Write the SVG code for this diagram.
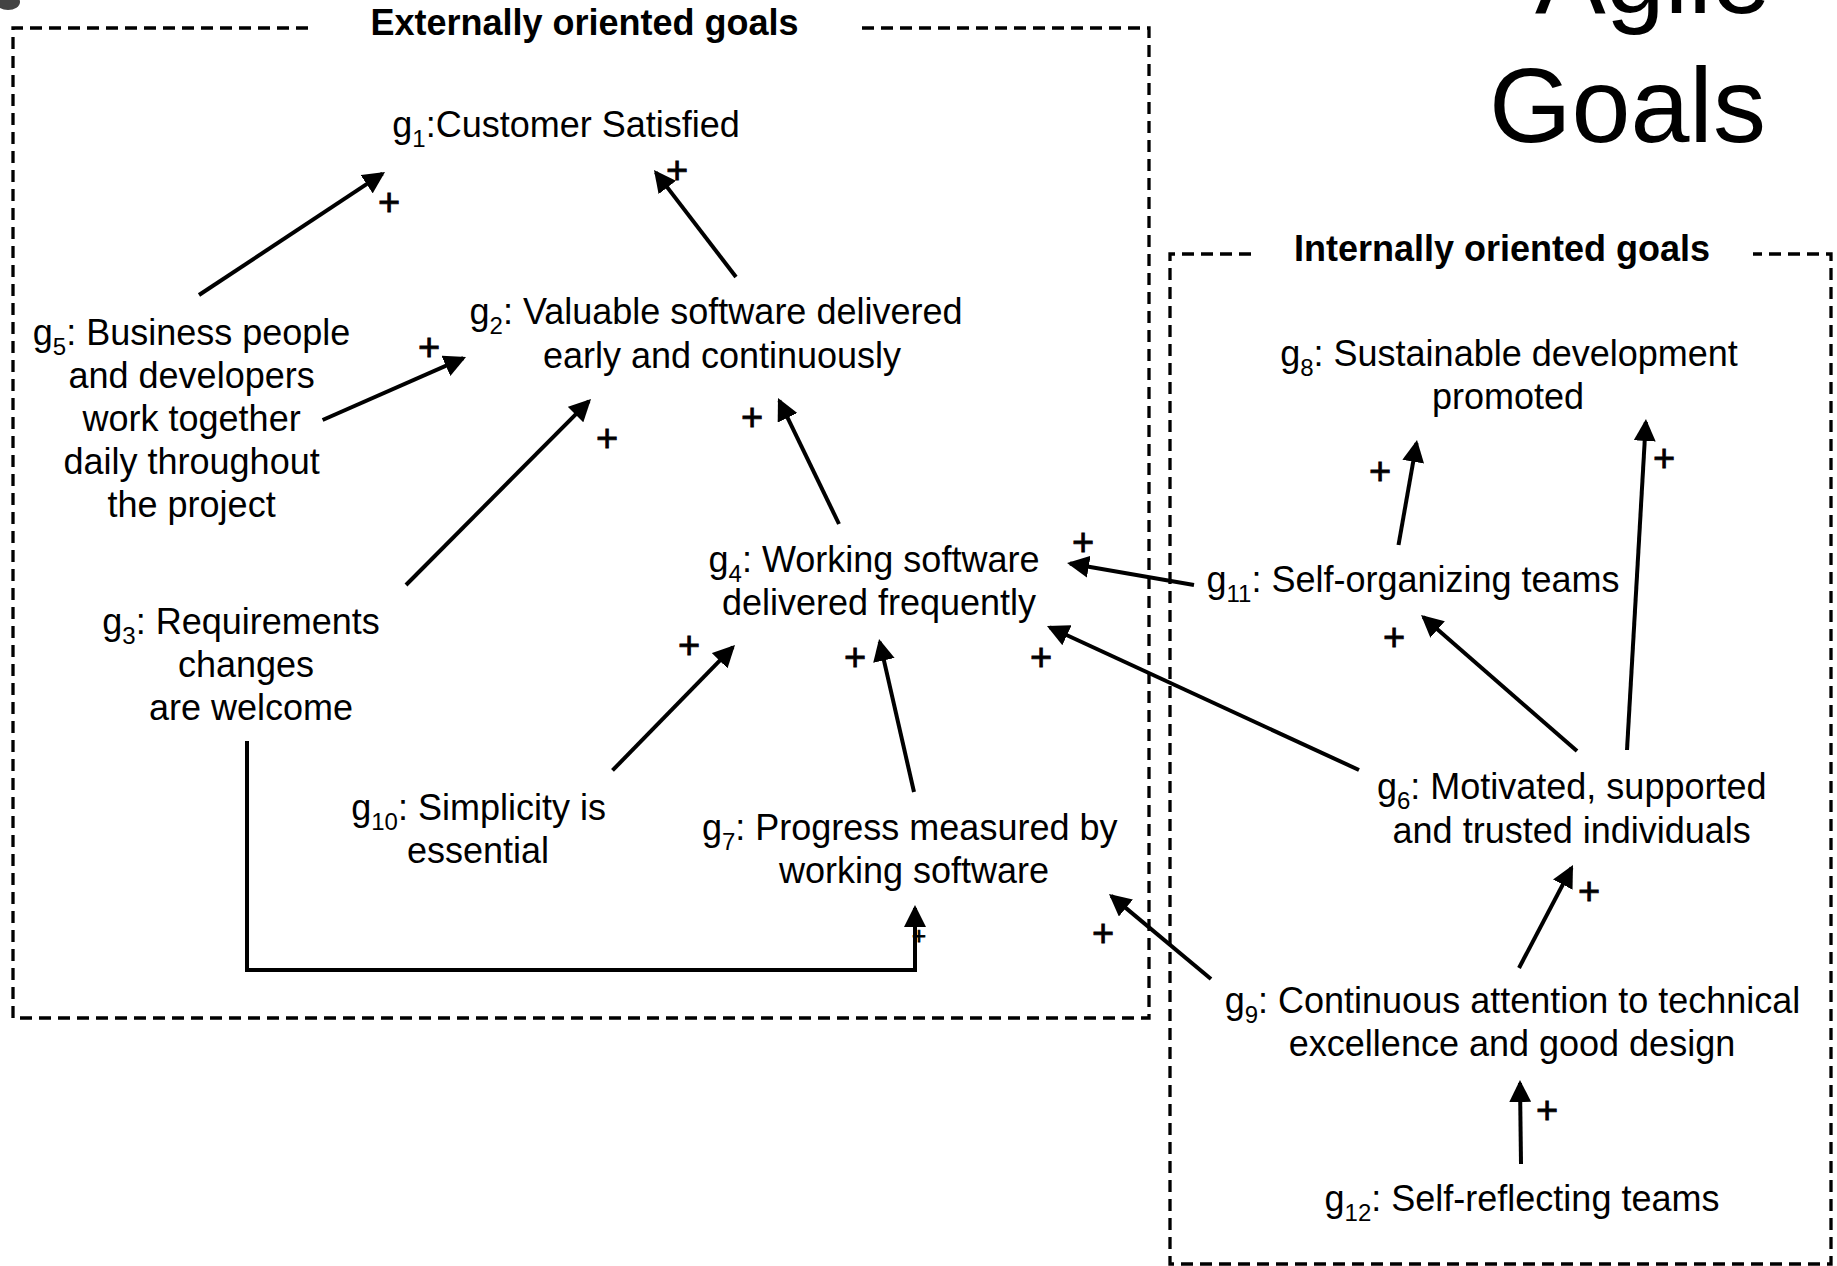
<svg xmlns="http://www.w3.org/2000/svg" width="1837" height="1266" viewBox="0 0 1837 1266">
<style>
text{font-family:"Liberation Sans",Arial,"DejaVu Sans",sans-serif;fill:#000}
.n{font-size:36px;text-anchor:middle}
.s{font-size:24px}
.t{font-size:36px;font-weight:bold;text-anchor:middle}
.big{font-size:106px}
.p{font-size:38px;text-anchor:middle;stroke:#000;stroke-width:0.8}
.box{fill:none;stroke:#000;stroke-width:3.3;stroke-dasharray:12 7}
.c{fill:none;stroke:#000;stroke-width:4;marker-end:url(#ah)}
</style>
<defs>
<marker id="ah" markerUnits="userSpaceOnUse" markerWidth="22" markerHeight="22" refX="19" refY="11" orient="auto">
<path d="M0,0 L22,11 L0,22 z" fill="#000"/>
</marker>
</defs>
<rect width="1837" height="1266" fill="#fff"/>
<ellipse cx="8" cy="2" rx="12" ry="8" fill="#222" opacity="0.85"/>

<g id="title">
<text class="big" x="1535" y="13">Agile</text>
<text class="big" x="1489" y="142">Goals</text>
</g>

<g id="external-group">
<path class="box" d="M308,28 H13 V1018 H1149 V28 H859"/>
<text class="t" x="584.5" y="35">Externally oriented goals</text>
</g>
<g id="internal-group">
<path class="box" d="M1251,254 H1170 V1264 H1831 V254 H1753"/>
<text class="t" x="1502" y="261">Internally oriented goals</text>
</g>

<g id="connectors">
<g id="e5-1"><path class="c" d="M199,295 L382.5,173.7"/><text class="p" x="389" y="215">+</text></g>
<g id="e2-1"><path class="c" d="M736,277 L655.8,172.4"/><text class="p" x="677" y="183">+</text></g>
<g id="e5-2"><path class="c" d="M322.6,420 L463.3,358.2"/><text class="p" x="429" y="360">+</text></g>
<g id="e3-2"><path class="c" d="M406,585 L588.9,401.1"/><text class="p" x="607" y="451">+</text></g>
<g id="e4-2"><path class="c" d="M839,524 L779.3,400.7"/><text class="p" x="752" y="430">+</text></g>
<g id="e10-4"><path class="c" d="M612.5,770.4 L732.9,647.1"/><text class="p" x="689" y="658">+</text></g>
<g id="e7-4"><path class="c" d="M914,792 L879.7,641.9"/><text class="p" x="855" y="670">+</text></g>
<g id="e11-4"><path class="c" d="M1194,585 L1070,563.5"/><text class="p" x="1083" y="555">+</text></g>
<g id="e6-4"><path class="c" d="M1359,770 L1049.7,627.3"/><text class="p" x="1041" y="670">+</text></g>
<g id="e6-11"><path class="c" d="M1577,751 L1423.3,617"/><text class="p" x="1394" y="650">+</text></g>
<g id="e11-8"><path class="c" d="M1398.5,545 L1416.5,443"/><text class="p" x="1380" y="484">+</text></g>
<g id="e6-8"><path class="c" d="M1627,750 L1645.8,422"/><text class="p" x="1664" y="471">+</text></g>
<g id="e9-6"><path class="c" d="M1519,968 L1571.6,867.7"/><text class="p" x="1589" y="904">+</text></g>
<g id="e12-9"><path class="c" d="M1521,1164 L1520,1083"/><text class="p" x="1547" y="1123">+</text></g>
<g id="e9-7"><path class="c" d="M1211,979 L1111.3,895.9"/><text class="p" x="1103" y="946">+</text></g>
<g id="e3-7"><text class="p" x="919" y="944" style="font-size:24px">+</text><path class="c" style="stroke-linejoin:miter" d="M247,741 V970 H915 V908"/></g>
</g>

<g id="g1"><text class="n" x="566" y="137">g<tspan class="s" dy="10">1</tspan><tspan dy="-10">:Customer Satisfied</tspan></text></g>
<g id="g2"><text class="n" x="716" y="324">g<tspan class="s" dy="10">2</tspan><tspan dy="-10">: Valuable software delivered</tspan></text>
<text class="n" x="722" y="368">early and continuously</text></g>
<g id="g3"><text class="n" x="241" y="634">g<tspan class="s" dy="10">3</tspan><tspan dy="-10">: Requirements</tspan></text>
<text class="n" x="246" y="677">changes</text>
<text class="n" x="251" y="720">are welcome</text></g>
<g id="g4"><text class="n" x="874" y="572">g<tspan class="s" dy="10">4</tspan><tspan dy="-10">: Working software</tspan></text>
<text class="n" x="879" y="615">delivered frequently</text></g>
<g id="g5"><text class="n" x="191.6" y="345">g<tspan class="s" dy="10">5</tspan><tspan dy="-10">: Business people</tspan></text>
<text class="n" x="191.6" y="388">and developers</text>
<text class="n" x="191.6" y="431">work together</text>
<text class="n" x="191.6" y="474">daily throughout</text>
<text class="n" x="191.6" y="517">the project</text></g>
<g id="g6"><text class="n" x="1571.7" y="799">g<tspan class="s" dy="10">6</tspan><tspan dy="-10">: Motivated, supported</tspan></text>
<text class="n" x="1571.7" y="843">and trusted individuals</text></g>
<g id="g7"><text class="n" x="909.7" y="840">g<tspan class="s" dy="10">7</tspan><tspan dy="-10">: Progress measured by</tspan></text>
<text class="n" x="914" y="883">working software</text></g>
<g id="g8"><text class="n" x="1509" y="365.5">g<tspan class="s" dy="10">8</tspan><tspan dy="-10">: Sustainable development</tspan></text>
<text class="n" x="1508" y="409">promoted</text></g>
<g id="g9"><text class="n" x="1512.5" y="1013">g<tspan class="s" dy="10">9</tspan><tspan dy="-10">: Continuous attention to technical</tspan></text>
<text class="n" x="1512" y="1056">excellence and good design</text></g>
<g id="g10"><text class="n" x="478.6" y="820">g<tspan class="s" dy="10">10</tspan><tspan dy="-10">: Simplicity is</tspan></text>
<text class="n" x="478" y="863">essential</text></g>
<g id="g11"><text class="n" x="1413" y="591.6">g<tspan class="s" dy="10">11</tspan><tspan dy="-10">: Self-organizing teams</tspan></text></g>
<g id="g12"><text class="n" x="1522" y="1211">g<tspan class="s" dy="10">12</tspan><tspan dy="-10">: Self-reflecting teams</tspan></text></g>
</svg>
